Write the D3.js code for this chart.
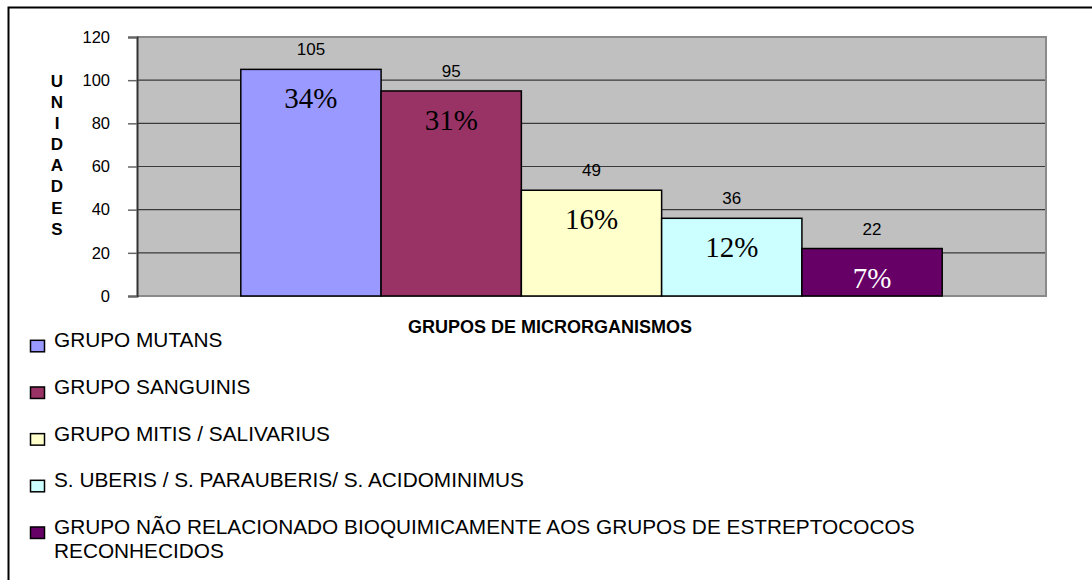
<!DOCTYPE html>
<html>
<head>
<meta charset="utf-8">
<script src="https://cdn.jsdelivr.net/npm/d3@7"></script>
<style>
  body { margin: 0; background: #fff; }
  text { font-family: "Liberation Sans", Arial, sans-serif; }
</style>
</head>
<body>
<div id="chart"></div>
<script>
// data
const categories = [
  "GRUPO MUTANS",
  "GRUPO SANGUINIS",
  "GRUPO MITIS / SALIVARIUS",
  "S. UBERIS / S. PARAUBERIS/ S. ACIDOMINIMUS",
  "GRUPO NÃO RELACIONADO BIOQUIMICAMENTE AOS GRUPOS DE ESTREPTOCOCOS RECONHECIDOS",
];
const values = [105, 95, 49, 36, 22];
const yTicks = [0, 20, 40, 60, 80, 100, 120];
const colors = ["#9999FF", "#993366", "#FFFFCC", "#CCFFFF", "#660066"];
const pctColors = ["#000", "#000", "#000", "#000", "#fff"];
const yTitle = "UNIDADES";
const xTitle = "GRUPOS DE MICRORGANISMOS";

const W = 1092, H = 580;
const margin = { top: 37, left: 137, right: 46, bottom: 284 };
const width = W - margin.left - margin.right;
const height = H - margin.top - margin.bottom;

const root = d3.select("#chart").append("svg")
  .attr("width", W)
  .attr("height", H);

// outer frame (only top and left edges are visible)
root.append("rect")
  .attr("x", 8.5).attr("y", 7.5)
  .attr("width", 1200).attr("height", 700)
  .attr("fill", "none")
  .attr("stroke", "#000")
  .attr("stroke-width", 2);

const svg = root.append("g")
  .attr("transform", `translate(${margin.left},${margin.top})`);

const x0 = d3.scaleBand()
  .domain(["grupos"])
  .range([0, width])
  .paddingOuter(0.148);

const x1 = d3.scaleBand()
  .domain(categories)
  .range([0, x0.bandwidth()]);

const y = d3.scaleLinear()
  .domain([0, 120])
  .range([height, 0]);

// plot background
svg.append("rect")
  .attr("width", width).attr("height", height)
  .attr("fill", "#C0C0C0");

// gridlines
svg.append("g")
  .selectAll("line")
  .data(yTicks.filter((d) => d > 0 && d < 120))
  .enter()
  .append("line")
  .attr("x1", 0).attr("x2", width)
  .attr("y1", (d) => y(d)).attr("y2", (d) => y(d))
  .attr("stroke", "#3a3a3a")
  .attr("stroke-width", 1.2);

// plot border (top / right / bottom)
svg.append("path")
  .attr("d", `M0,0H${width}V${height}H0`)
  .attr("fill", "none")
  .attr("stroke", "#8a8a8a")
  .attr("stroke-width", 2);

// y axis
const yAxis = svg.append("g")
  .call(d3.axisLeft(y).tickValues(yTicks).tickSize(9).tickPadding(18));
yAxis.select(".domain").attr("stroke", "#333").attr("stroke-width", 2);
yAxis.selectAll(".tick line").attr("stroke", "#666").attr("stroke-width", 1.5);
yAxis.selectAll(".tick text")
  .attr("font-size", 16.5)
  .attr("font-family", "Liberation Sans, Arial, sans-serif")
  .attr("fill", "#000");

// bars
const gx = x0("grupos");
svg.selectAll(".bar")
  .data(values)
  .enter()
  .append("rect")
  .attr("class", "bar")
  .attr("x", (d, i) => gx + x1(categories[i]))
  .attr("y", (d) => y(d))
  .attr("width", x1.bandwidth())
  .attr("height", (d) => height - y(d))
  .attr("fill", (d, i) => colors[i])
  .attr("stroke", "#000")
  .attr("stroke-width", 1.5);

// value labels above bars
svg.selectAll(".val")
  .data(values)
  .enter()
  .append("text")
  .attr("class", "val")
  .attr("x", (d, i) => gx + x1(categories[i]) + x1.bandwidth() / 2)
  .attr("y", (d) => y(d) - 14)
  .attr("text-anchor", "middle")
  .attr("font-size", 17)
  .text((d) => d);

// percentage labels inside bars
const total = d3.sum(values);
svg.selectAll(".pct")
  .data(values)
  .enter()
  .append("text")
  .attr("class", "pct")
  .attr("x", (d, i) => gx + x1(categories[i]) + x1.bandwidth() / 2)
  .attr("y", (d) => y(d) + 39)
  .attr("text-anchor", "middle")
  .style("font-family", "'Liberation Serif', 'Times New Roman', serif")
  .attr("font-size", 29)
  .attr("fill", (d, i) => pctColors[i])
  .text((d) => d3.format(".0%")(d / total));

// y axis title, stacked letters
root.append("g")
  .selectAll("text")
  .data(yTitle.split(""))
  .enter()
  .append("text")
  .attr("x", 57)
  .attr("y", (d, i) => 81 + i * 21.1)
  .attr("dy", "0.35em")
  .attr("text-anchor", "middle")
  .attr("font-size", 17)
  .attr("font-weight", "bold")
  .text((d) => d);

// x axis title
root.append("text")
  .attr("x", 550)
  .attr("y", 333)
  .attr("text-anchor", "middle")
  .attr("font-size", 18)
  .attr("font-weight", "bold")
  .text(xTitle);

// legend
const legend = root.append("g");
const item = legend.selectAll(".item")
  .data(categories)
  .enter()
  .append("g")
  .attr("class", "item")
  .attr("transform", (d, i) => `translate(0,${347.3 + i * 46.67})`);

item.append("rect")
  .attr("x", 30.5).attr("y", -7)
  .attr("width", 14).attr("height", 11.5)
  .attr("fill", (d, i) => colors[i])
  .attr("stroke", "#000")
  .attr("stroke-width", 1.5);

item.append("text")
  .attr("x", 54)
  .attr("font-size", 20.8)
  .each(function (d) {
    // simple word wrap
    const t = d3.select(this);
    const words = d.split(" ");
    let line = [];
    let tspan = t.append("tspan").attr("x", 54).attr("dy", 0);
    words.forEach((w) => {
      line.push(w);
      tspan.text(line.join(" "));
      if (tspan.node().getComputedTextLength() > 900 && line.length > 1) {
        line.pop();
        tspan.text(line.join(" "));
        line = [w];
        tspan = t.append("tspan").attr("x", 54).attr("dy", 24).text(w);
      }
    });
  });
</script>
</body>
</html>
